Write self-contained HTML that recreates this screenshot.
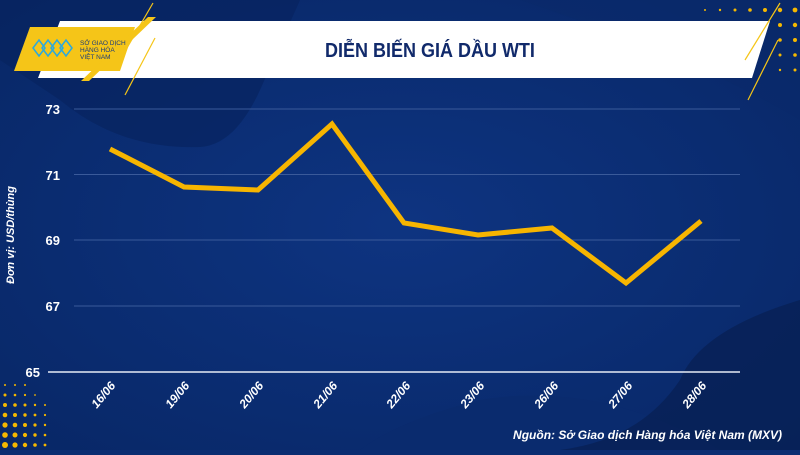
<!DOCTYPE html>
<html><head><meta charset="utf-8"><style>
html,body{margin:0;padding:0}
body{width:800px;height:450px;overflow:hidden;background:#0b2d72;font-family:"Liberation Sans",sans-serif}
</style></head><body>
<svg width="800" height="450" viewBox="0 0 800 450" xmlns="http://www.w3.org/2000/svg">
<defs>
<radialGradient id="bg" cx="0.5" cy="0.5" r="0.7"><stop offset="0" stop-color="#0e3481"/><stop offset="1" stop-color="#082766"/></radialGradient>
</defs>
<rect width="800" height="450" fill="url(#bg)"/>
<path d="M60 100 Q120 150 200 147 Q235 145 260 90 L300 0 L0 0 L0 60 Z" fill="#072460" opacity="0.7"/>
<path d="M720 450 Q600 380 480 400 Q400 420 360 450 Z" fill="#0a2b6e"/>
<path d="M800 300 Q700 330 680 380 Q640 440 560 450 L800 450 Z" fill="#072155" opacity="0.8"/>
<path d="M520 0 L800 0 L800 120 Q700 60 520 0Z" fill="#0a2a6a" opacity="0.6"/>
<g fill="#f5b800">
<circle cx="705" cy="10" r="1"/><circle cx="720" cy="10" r="1.2"/><circle cx="735" cy="10" r="1.5"/><circle cx="750" cy="10" r="1.8"/><circle cx="765" cy="10" r="2"/><circle cx="780" cy="10" r="2.2"/><circle cx="795" cy="10" r="2.4"/>
<circle cx="735" cy="25" r="1.2"/><circle cx="750" cy="25" r="1.5"/><circle cx="765" cy="25" r="1.8"/><circle cx="780" cy="25" r="2"/><circle cx="795" cy="25" r="2.2"/>
<circle cx="780" cy="40" r="1.8"/><circle cx="795" cy="40" r="2"/><circle cx="780" cy="55" r="1.5"/><circle cx="795" cy="55" r="1.8"/>
<circle cx="780" cy="70" r="1.2"/><circle cx="795" cy="70" r="1.5"/>
<circle cx="5" cy="385" r="1"/><circle cx="15" cy="385" r="1"/><circle cx="25" cy="385" r="1"/>
<circle cx="5" cy="395" r="1.5"/><circle cx="15" cy="395" r="1.3"/><circle cx="25" cy="395" r="1.1"/><circle cx="35" cy="395" r="0.9"/>
<circle cx="5" cy="405" r="2"/><circle cx="15" cy="405" r="1.8"/><circle cx="25" cy="405" r="1.5"/><circle cx="35" cy="405" r="1.2"/><circle cx="45" cy="405" r="1"/>
<circle cx="5" cy="415" r="2.3"/><circle cx="15" cy="415" r="2"/><circle cx="25" cy="415" r="1.7"/><circle cx="35" cy="415" r="1.4"/><circle cx="45" cy="415" r="1.1"/>
<circle cx="5" cy="425" r="2.6"/><circle cx="15" cy="425" r="2.3"/><circle cx="25" cy="425" r="2"/><circle cx="35" cy="425" r="1.6"/><circle cx="45" cy="425" r="1.2"/>
<circle cx="5" cy="435" r="2.8"/><circle cx="15" cy="435" r="2.5"/><circle cx="25" cy="435" r="2.1"/><circle cx="35" cy="435" r="1.7"/><circle cx="45" cy="435" r="1.3"/>
<circle cx="5" cy="445" r="3"/><circle cx="15" cy="445" r="2.6"/><circle cx="25" cy="445" r="2.2"/><circle cx="35" cy="445" r="1.8"/><circle cx="45" cy="445" r="1.4"/>
</g>
<polygon points="60,21 770,21 752,78 38,78" fill="#ffffff"/>
<polygon points="30,27 135,27 120,71 14,71" fill="#f5c518"/>
<polygon points="148,17 156,17 89,81 81,81" fill="#f5c518"/>
<line x1="153" y1="3" x2="120" y2="60" stroke="#f5c518" stroke-width="1.2"/>
<line x1="155" y1="38" x2="125" y2="95" stroke="#f5c518" stroke-width="1.2"/>
<line x1="780" y1="3" x2="745" y2="60" stroke="#f5c518" stroke-width="1.2"/>
<line x1="778" y1="40" x2="748" y2="100" stroke="#f5c518" stroke-width="1.2"/>
<g stroke="#29a8e0" stroke-width="1.5" fill="none"><path d="M33 48 l6 -8 l6 8 l-6 8 z M42 48 l6 -8 l6 8 l-6 8 z M51 48 l6 -8 l6 8 l-6 8z M60 48 l6-8 l6 8 l-6 8z"/></g>
<text x="80" y="45" font-size="6.5" fill="#1a3b7a">SỞ GIAO DỊCH</text>
<text x="80" y="52" font-size="6.5" fill="#1a3b7a">HÀNG HÓA</text>
<text x="80" y="59" font-size="6.5" fill="#1a3b7a">VIỆT NAM</text>
<text x="430" y="57" font-size="20" font-weight="bold" fill="#112a6b" text-anchor="middle" transform="translate(430,0) scale(0.9,1) translate(-430,0)">DIỄN BIẾN GIÁ DẦU WTI</text>
<g stroke="#3a5a9a" stroke-width="1"><line x1="74" y1="109" x2="740" y2="109"/><line x1="74" y1="174.5" x2="740" y2="174.5"/><line x1="74" y1="240" x2="740" y2="240"/><line x1="74" y1="306" x2="740" y2="306"/></g>
<line x1="48" y1="372" x2="740" y2="372" stroke="#e6ebf5" stroke-width="1.5"/>
<g fill="#ffffff" font-size="13" font-weight="bold" text-anchor="end">
<text x="60" y="114">73</text><text x="60" y="180">71</text><text x="60" y="245">69</text><text x="60" y="311">67</text><text x="40" y="377">65</text>
</g>
<text transform="translate(14,235) rotate(-90)" font-size="11" font-weight="bold" font-style="italic" fill="#ffffff" text-anchor="middle">Đơn vị: USD/thùng</text>
<polyline points="110,149 184,187 258,190 332,124 404,223 478,235 552,228 626,283 701,221" fill="none" stroke="#f7b500" stroke-width="5" stroke-linejoin="miter"/>
<g fill="#ffffff" font-size="12" font-weight="bold" font-style="italic" text-anchor="end">
<text transform="translate(116,386) rotate(-50)">16/06</text>
<text transform="translate(190,386) rotate(-50)">19/06</text>
<text transform="translate(264,386) rotate(-50)">20/06</text>
<text transform="translate(338,386) rotate(-50)">21/06</text>
<text transform="translate(411,386) rotate(-50)">22/06</text>
<text transform="translate(485,386) rotate(-50)">23/06</text>
<text transform="translate(559,386) rotate(-50)">26/06</text>
<text transform="translate(633,386) rotate(-50)">27/06</text>
<text transform="translate(707,386) rotate(-50)">28/06</text>
</g>
<text x="782" y="439" font-size="12" font-weight="bold" font-style="italic" fill="#ffffff" text-anchor="end">Nguồn: Sở Giao dịch Hàng hóa Việt Nam (MXV)</text>
</svg>
</body></html>
